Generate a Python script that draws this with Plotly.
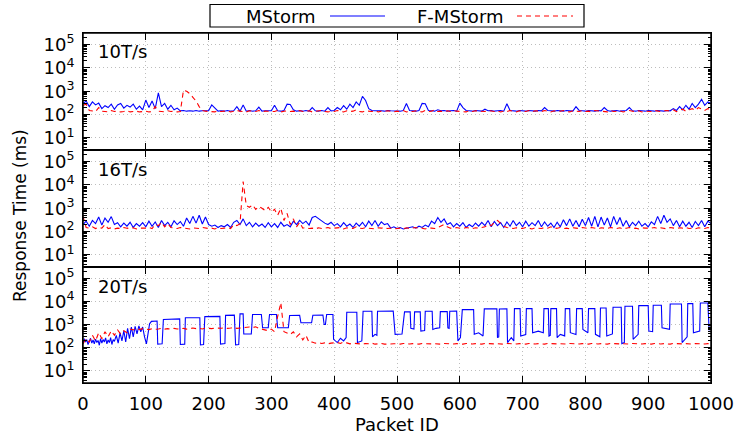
import plotly.graph_objects as go

# ---------------- data ----------------
PANEL_LABELS = ["10T/s", "16T/s", "20T/s"]
SERIES_NAMES = ["MStorm", "F-MStorm"]
X_TICKS = [0, 100, 200, 300, 400, 500, 600, 700, 800, 900, 1000]
Y_TICKS = [10, 100, 1000, 10000, 100000]
Y_TICKTEXT = ["10<sup>1</sup>", "10<sup>2</sup>", "10<sup>3</sup>", "10<sup>4</sup>", "10<sup>5</sup>"]

PACKET_IDS = list(range(0, 1001, 5))

# 10T/s
MSTORM_10 = [
    300, 380, 220, 350, 260, 310, 180, 240, 200, 280, 170, 260, 300, 190, 250, 210, 280, 170, 230, 160,
    420, 200, 380, 180, 850, 220, 300, 170, 250, 160, 190, 145, 150, 140, 145, 140, 150, 140, 145, 140,
    145, 260, 200, 140, 145, 140, 150, 140, 145, 220, 140, 260, 140, 150, 140, 145, 210, 140, 145, 140,
    145, 250, 145, 140, 150, 280, 270, 160, 140, 145, 140, 150, 140, 200, 145, 140, 150, 140, 200, 145,
    150, 200, 160, 240, 170, 280, 200, 350, 250, 600, 400, 180, 150, 145, 150, 145, 140, 150, 145, 140,
    145, 140, 150, 300, 150, 145, 140, 150, 300, 290, 150, 145, 140, 160, 145, 150, 140, 145, 150, 140,
    310, 200, 150, 145, 140, 150, 145, 140, 170, 145, 150, 140, 145, 150, 140, 290, 150, 145, 140, 150,
    145, 140, 150, 145, 140, 150, 145, 200, 150, 145, 140, 150, 145, 140, 150, 145, 140, 220, 150, 145,
    140, 150, 145, 140, 150, 145, 200, 150, 140, 145, 150, 140, 145, 150, 200, 145, 140, 150, 145, 140,
    150, 145, 140, 150, 145, 140, 150, 145, 180, 150, 220, 160, 250, 170, 300, 200, 280, 450, 250, 350,
    300,
]
FMSTORM_10 = [
    250, 280, 150, 140, 135, 200, 140, 135, 130, 150, 135, 140, 130, 135, 145, 130, 135, 140, 130, 135,
    140, 130, 135, 220, 140, 135, 130, 145, 135, 140, 130, 135, 1100, 1000, 800, 550, 380, 220, 150, 140,
    135, 140, 130, 150, 135, 140, 145, 130, 135, 150, 140, 135, 130, 145, 140, 135, 150, 130, 140, 135,
    140, 135, 150, 130, 140, 145, 135, 140, 130, 150, 135, 140, 145, 130, 135, 140, 150, 135, 130, 140,
    135, 150, 140, 130, 145, 135, 140, 160, 135, 130, 145, 140, 135, 150, 130, 140, 135, 145, 140, 130,
    140, 135, 150, 130, 140, 135, 145, 140, 130, 150, 135, 140, 160, 135, 140, 130, 145, 135, 150, 140,
    135, 140, 130, 150, 135, 145, 140, 130, 135, 150, 140, 135, 145, 130, 140, 135, 150, 140, 130, 145,
    140, 135, 150, 130, 145, 140, 135, 150, 140, 130, 145, 135, 140, 150, 135, 130, 145, 140, 135, 150,
    135, 140, 130, 150, 145, 135, 140, 130, 150, 135, 140, 145, 130, 135, 150, 140, 135, 145, 130, 140,
    140, 135, 150, 140, 135, 145, 150, 140, 160, 135, 150, 170, 140, 160, 180, 150, 200, 170, 150, 180,
    160,
]

# 16T/s
MSTORM_16 = [
    200, 280, 170, 300, 220, 420, 190, 380, 250, 440, 200, 240, 160, 230, 170, 250, 150, 220, 170, 240,
    160, 280, 170, 260, 150, 300, 180, 250, 160, 290, 200, 270, 170, 380, 220, 450, 230, 500, 210, 420,
    200, 170, 190, 150, 180, 160, 200, 150, 250, 300, 200, 350, 180, 250, 160, 230, 170, 210, 150, 240,
    160, 220, 150, 250, 170, 200, 160, 280, 200, 300, 220, 280, 190, 400, 450, 350, 280, 230, 200, 250,
    180, 220, 160, 240, 170, 210, 150, 230, 170, 250, 160, 280, 180, 300, 170, 260, 200, 220, 140, 160,
    135, 150, 130, 140, 150, 160, 140, 170, 150, 190, 160, 280, 220, 400, 250, 350, 200, 240, 160, 220,
    170, 240, 150, 200, 160, 230, 170, 250, 180, 300, 160, 270, 180, 240, 150, 260, 170, 300, 180, 250,
    160, 280, 170, 240, 180, 300, 160, 260, 170, 230, 150, 250, 160, 320, 180, 350, 170, 300, 160, 340,
    180, 400, 170, 450, 160, 420, 190, 380, 160, 450, 200, 400, 170, 300, 160, 250, 180, 280, 170, 220,
    160, 260, 200, 450, 220, 500, 250, 350, 180, 300, 160, 280, 170, 250, 150, 270, 180, 300, 160, 280,
    220,
]
FMSTORM_16 = [
    450, 150, 140, 160, 135, 150, 140, 200, 135, 145, 130, 140, 135, 150, 140, 135, 145, 130, 140, 135,
    140, 150, 135, 200, 180, 250, 160, 220, 150, 140, 135, 150, 140, 135, 130, 145, 140, 135, 150, 140,
    135, 140, 130, 145, 135, 140, 150, 135, 200, 180, 220, 14000, 1300, 1100, 1400, 900, 1200, 1000, 800, 1100,
    700, 900, 500, 1000, 300, 600, 200, 350, 160, 250, 140, 150, 135, 140, 130, 145, 135, 140, 150, 135,
    140, 135, 150, 130, 145, 140, 135, 160, 140, 135, 150, 140, 135, 130, 145, 140, 150, 135, 140, 130,
    135, 140, 130, 145, 135, 140, 150, 135, 140, 130, 145, 140, 135, 150, 180, 200, 160, 140, 135, 150,
    140, 135, 150, 140, 135, 145, 140, 150, 160, 200, 180, 250, 300, 220, 170, 150, 140, 135, 145, 140,
    135, 150, 140, 130, 145, 140, 135, 150, 140, 160, 135, 140, 150, 135, 140, 130, 145, 140, 135, 150,
    140, 135, 150, 140, 130, 145, 140, 135, 150, 140, 135, 145, 130, 140, 150, 135, 140, 130, 145, 140,
    135, 140, 150, 135, 145, 140, 130, 150, 140, 135, 145, 140, 150, 135, 140, 130, 145, 140, 135, 150,
    140,
]

# 20T/s
FMSTORM_20 = [
    150, 250, 180, 350, 200, 450, 250, 500, 300, 550, 350, 600, 400, 550, 450, 650, 600, 700, 620, 680,
    650, 620, 680, 640, 660, 700, 650, 680, 640, 700, 660, 680, 700, 650, 690, 720, 680, 700, 660, 710,
    700, 680, 720, 690, 710, 740, 700, 720, 750, 700, 730, 760, 780, 800, 750, 820, 700, 650, 600, 550,
    650, 500, 2300, 9000, 500, 450, 380, 500, 300, 400, 220, 350, 170, 180, 160, 170, 155, 165, 150, 160,
    160, 170, 155, 180, 165, 150, 160, 155, 150, 145, 155, 150, 160, 145, 150, 155, 145, 150, 155, 150,
    150, 145, 155, 150, 148, 152, 150, 145, 155, 150, 150, 148, 152, 150, 145, 155, 150, 150, 148, 152,
    150, 145, 155, 150, 148, 152, 150, 145, 155, 150, 150, 148, 152, 150, 145, 155, 150, 150, 148, 152,
    150, 145, 155, 150, 148, 152, 150, 145, 155, 150, 150, 148, 152, 150, 145, 155, 150, 150, 148, 152,
    150, 145, 155, 150, 148, 152, 150, 145, 155, 150, 150, 148, 152, 150, 145, 155, 150, 150, 148, 152,
    150, 145, 155, 150, 148, 152, 150, 145, 155, 150, 150, 148, 152, 150, 145, 155, 150, 150, 148, 152,
    150,
]
MSTORM_20 = [
    (0, 150), (2, 250), (4, 180), (6, 230), (8, 140), (10, 200), (12, 260), (14, 160), (16, 220), (18, 150),
    (20, 240), (22, 170), (24, 210), (26, 130), (28, 250), (30, 160), (32, 230), (34, 180), (36, 270), (38, 150),
    (40, 220), (42, 170), (44, 280), (46, 140), (48, 230), (50, 190), (53, 350), (56, 160), (59, 450), (62, 200),
    (65, 550), (68, 180), (71, 700), (74, 250), (77, 800), (80, 300), (83, 850), (86, 400), (89, 900), (92, 500),
    (95, 800), (98, 300), (101, 150), (106, 1100), (109, 1400), (118, 1450), (119, 145), (126, 150), (128, 1700),
    (154, 1800), (155, 140), (162, 145), (163, 2000), (186, 2000), (187, 135), (192, 140), (194, 2250), (218, 2300),
    (219, 145), (226, 155), (227, 2550), (241, 2600), (243, 135), (248, 140), (250, 2950), (255, 2950), (256, 400),
    (268, 400), (270, 2800), (284, 2800), (286, 740), (295, 750), (297, 2800), (308, 2800), (310, 740), (327, 750),
    (329, 2500), (345, 2550), (347, 1220), (364, 1220), (366, 2600), (382, 2650), (384, 1030), (386, 1030),
    (388, 2800), (398, 2800), (399, 235), (405, 170), (410, 260), (415, 200), (419, 280), (420, 3480), (436, 3500),
    (437, 170), (444, 200), (446, 3860), (460, 3860), (461, 300), (465, 385), (468, 350), (469, 3860), (494, 3900),
    (497, 385), (508, 400), (512, 3600), (521, 3600), (522, 700), (527, 650), (528, 3600), (537, 3650), (538, 530),
    (544, 560), (545, 3850), (556, 3850), (557, 630), (562, 700), (568, 740), (569, 3700), (580, 3700), (581, 740),
    (583, 700), (584, 3850), (595, 3900), (597, 200), (601, 280), (604, 4540), (622, 4540), (623, 385), (630, 450),
    (637, 327), (639, 4850), (659, 4850), (660, 277), (662, 300), (663, 4850), (675, 4900), (676, 170), (682, 277),
    (686, 200), (687, 5000), (696, 5000), (697, 327), (705, 380), (706, 5000), (715, 5000), (716, 454), (725, 530),
    (733, 454), (734, 5000), (741, 5000), (742, 327), (744, 350), (745, 5000), (754, 5000), (755, 277), (760, 380),
    (767, 330), (768, 5000), (775, 5000), (776, 454), (785, 380), (786, 5000), (795, 5000), (796, 630), (804, 454),
    (805, 5000), (815, 5000), (816, 385), (823, 300), (824, 5350), (833, 5350), (834, 327), (843, 400), (844, 5720),
    (857, 5720), (858, 153), (862, 170), (863, 6310), (875, 6310), (876, 235), (884, 385), (885, 6740), (900, 6740),
    (901, 530), (907, 500), (908, 6970), (921, 6970), (922, 740), (934, 630), (935, 7950), (953, 7950), (954, 170),
    (962, 300), (963, 8200), (971, 8200), (972, 454), (982, 530), (983, 8770), (995, 8770), (997, 600), (1000, 630),
]
MSTORM_20_X = [p[0] for p in MSTORM_20]
MSTORM_20_Y = [p[1] for p in MSTORM_20]

# ---------------- figure ----------------
W, H = 739, 438
ML, MR, MT, MB = 83, 28, 33, 55
PW, PH = W - ML - MR, H - MT - MB
FONT = "DejaVu Sans"
BLUE = "#0000ff"
RED = "#ff0000"
GRID = "#bdbdbd"
RED_DASH = "5px,4px"

panel_px = [(33, 150), (150, 267), (267, 383)]
domains = [[(H - MB - b) / PH, (H - MB - t) / PH] for t, b in panel_px]
domains[0][1] = 1.0
domains[2][0] = 0.0

fig = go.Figure()
blue_sets = [(PACKET_IDS, MSTORM_10), (PACKET_IDS, MSTORM_16), (MSTORM_20_X, MSTORM_20_Y)]
red_sets = [(PACKET_IDS, FMSTORM_10), (PACKET_IDS, FMSTORM_16), (PACKET_IDS, FMSTORM_20)]

minor_vals = [m * 10 ** e for e in range(0, 6) for m in range(2, 10)]

for i in range(3):
    xa = "x" if i == 0 else f"x{i+1}"
    ya = "y" if i == 0 else f"y{i+1}"
    fig.add_trace(go.Scatter(x=blue_sets[i][0], y=blue_sets[i][1], mode="lines",
                             line=dict(color=BLUE, width=1.1), xaxis=xa, yaxis=ya,
                             name=SERIES_NAMES[0], showlegend=False))
    fig.add_trace(go.Scatter(x=red_sets[i][0], y=red_sets[i][1], mode="lines",
                             line=dict(color=RED, width=1.1, dash=RED_DASH), xaxis=xa, yaxis=ya,
                             name=SERIES_NAMES[1], showlegend=False))

layout = dict(
    width=W, height=H, margin=dict(l=ML, r=MR, t=MT, b=MB, autoexpand=False),
    paper_bgcolor="white", plot_bgcolor="white", showlegend=False,
    font=dict(family=FONT, size=18, color="black"),
)
for i in range(3):
    xk = "xaxis" if i == 0 else f"xaxis{i+1}"
    yk = "yaxis" if i == 0 else f"yaxis{i+1}"
    ya = "y" if i == 0 else f"y{i+1}"
    xa = "x" if i == 0 else f"x{i+1}"
    layout[xk] = dict(
        domain=[0, 1], anchor=ya, range=[0, 1000], tickvals=X_TICKS,
        ticktext=[str(v) for v in X_TICKS], showticklabels=(i == 2),
        ticks="inside", ticklen=7, tickwidth=1.2, tickcolor="black",
        showline=True, linecolor="black", linewidth=1, mirror="allticks",
        showgrid=True, gridcolor=GRID, griddash="1px,3px", gridwidth=1,
        zeroline=False, tickfont=dict(size=18), ticklabelstandoff=4, automargin=False,
    )
    layout[yk] = dict(
        domain=domains[i], anchor=xa, type="log", range=[0.48, 5.5],
        tickvals=Y_TICKS, ticktext=Y_TICKTEXT,
        ticks="inside", ticklen=7, tickwidth=1.2, tickcolor="black",
        showline=True, linecolor="black", linewidth=1, mirror="allticks",
        showgrid=True, gridcolor=GRID, griddash="1px,3px", gridwidth=1,
        zeroline=False, tickfont=dict(size=18), ticklabelstandoff=4, automargin=False,
        minor=dict(tickvals=minor_vals, ticks="inside", ticklen=3.5, tickcolor="black", showgrid=False),
    )
fig.update_layout(**layout)


def px_x(p):
    return (p - ML) / PW


def px_y(p):
    return (H - MB - p) / PH


ann = []
for i, lab in enumerate(PANEL_LABELS):
    ann.append(dict(x=px_x(96), y=px_y(panel_px[i][0] + 19), xref="paper", yref="paper",
                    text=lab, showarrow=False, xanchor="left", yanchor="middle",
                    font=dict(size=18, family=FONT)))
ann.append(dict(x=px_x(20), y=px_y(216), xref="paper", yref="paper", text="Response Time (ms)",
                textangle=-90, showarrow=False, xanchor="center", yanchor="middle",
                font=dict(size=17, family=FONT)))
ann.append(dict(x=0.5, y=px_y(424), xref="paper", yref="paper", text="Packet ID",
                showarrow=False, xanchor="center", yanchor="middle", font=dict(size=18, family=FONT)))
# legend (gnuplot style: label then sample)
ann.append(dict(x=px_x(318), y=px_y(16), xref="paper", yref="paper", text=SERIES_NAMES[0],
                showarrow=False, xanchor="right", yanchor="middle", font=dict(size=18, family=FONT)))
ann.append(dict(x=px_x(506), y=px_y(16), xref="paper", yref="paper", text=SERIES_NAMES[1],
                showarrow=False, xanchor="right", yanchor="middle", font=dict(size=18, family=FONT)))

shapes = [
    dict(type="rect", xref="paper", yref="paper", x0=0, x1=1, y0=0, y1=1,
         line=dict(color="black", width=1.5), fillcolor="rgba(0,0,0,0)", layer="above"),
    dict(type="rect", xref="paper", yref="paper", x0=px_x(210), x1=px_x(584), y0=px_y(27), y1=px_y(4.5),
         line=dict(color="black", width=1.2), fillcolor="white"),
    dict(type="line", xref="paper", yref="paper", x0=px_x(330), x1=px_x(385), y0=px_y(16), y1=px_y(16),
         line=dict(color=BLUE, width=1.2)),
    dict(type="line", xref="paper", yref="paper", x0=px_x(517), x1=px_x(573), y0=px_y(16), y1=px_y(16),
         line=dict(color=RED, width=1.2, dash=RED_DASH)),
]
fig.update_layout(annotations=ann, shapes=shapes)

fig.write_html("out.html", config={"displayModeBar": False},
               post_script="document.body.style.margin='0';document.body.style.padding='0';")
